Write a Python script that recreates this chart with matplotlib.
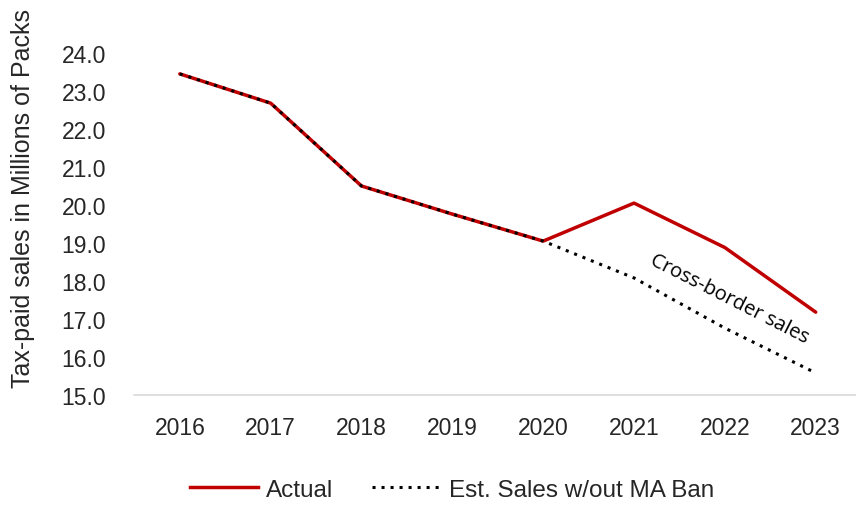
import matplotlib
matplotlib.use("Agg")
import matplotlib.pyplot as plt
from matplotlib.lines import Line2D

years = ["2016", "2017", "2018", "2019", "2020", "2021", "2022", "2023"]
actual = [23.45, 22.68, 20.5, 19.76, 19.05, 20.05, 18.88, 17.18]
estimated = [23.45, 22.68, 20.5, 19.76, 19.05, 18.08, 16.76, 15.58]
yticks = [15.0, 16.0, 17.0, 18.0, 19.0, 20.0, 21.0, 22.0, 23.0, 24.0]

plt.rcParams['font.family'] = ['Liberation Sans', 'DejaVu Sans']

fig = plt.figure(figsize=(8.56, 5.06), dpi=100)
ax = fig.add_axes([0.157, 0.2174, 0.849, 0.6759])

dot_style = (0, (1.0, 1.95))
x = list(range(len(years)))
ax.plot(x, actual, color="#C00000", lw=2.5, solid_capstyle="round", zorder=2)
ax.plot(x, estimated, color="black", lw=2.2, linestyle=dot_style,
        dash_capstyle="butt", zorder=3)

ax.set_xlim(-0.5, len(years) - 0.5)
ax.set_ylim(15, 24)
ax.set_xticks(x)
ax.set_xticklabels(years, fontsize=16.5, color="#262626")
ax.set_yticks(yticks)
ax.set_yticklabels([f"{v:.1f}" for v in yticks], fontsize=16.5, color="#262626")
ax.tick_params(axis="both", length=0)
ax.tick_params(axis="x", pad=15)
ax.tick_params(axis="y", pad=20.5)

for s in ["top", "right", "left"]:
    ax.spines[s].set_visible(False)
ax.spines["bottom"].set_color("#d9d9d9")
ax.spines["bottom"].set_linewidth(1.2)

fig.text(0.027, 0.608, "Tax-paid sales in Millions of Packs", rotation=90,
         ha="center", va="center", fontsize=18, color="#262626")

ax.text(6.05, 17.55, "Cross-border sales", rotation=-27, rotation_mode="anchor",
        ha="center", va="center", fontsize=14.5, family=["Open Sans", "DejaVu Sans"],
        color="black")

handles = [Line2D([], [], color="#C00000", lw=2.5),
           Line2D([], [], color="black", lw=2.2, linestyle=dot_style, dash_capstyle="butt")]
fig.legend(handles, ["Actual", "Est. Sales w/out MA Ban"], loc="center",
           bbox_to_anchor=(0.528, 0.03), ncol=2, frameon=False, fontsize=17.5,
           handlelength=2.8, columnspacing=1.6, handletextpad=0.35,
           labelcolor="#262626")

fig.savefig("out.png", dpi=100)
